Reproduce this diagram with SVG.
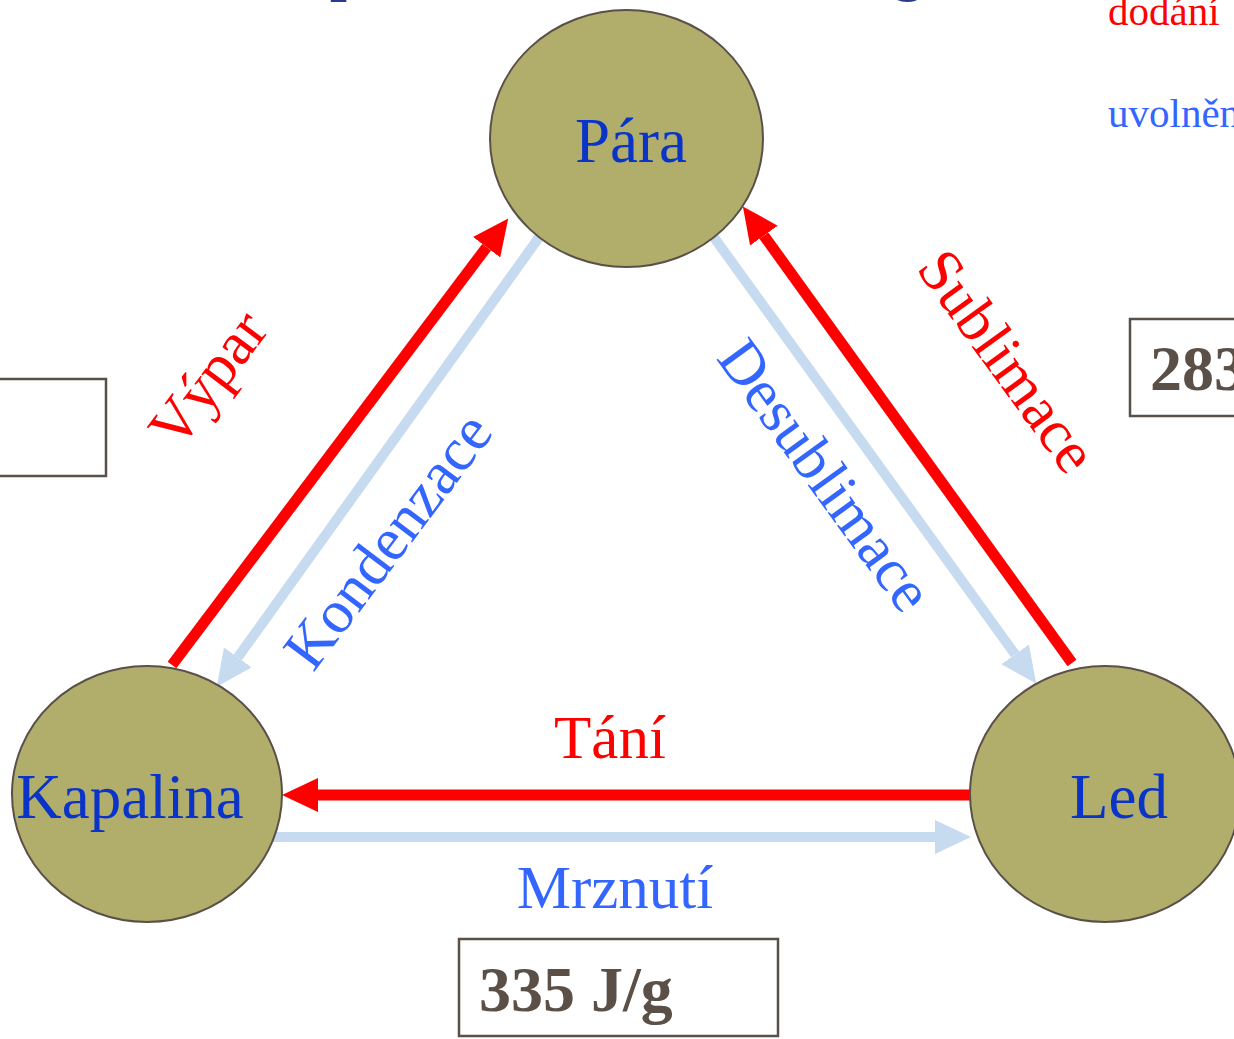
<svg xmlns="http://www.w3.org/2000/svg" width="1234" height="1039" viewBox="0 0 1234 1039">
<style>
.node{fill:#B1AE6C;stroke:#5A5048;stroke-width:2}
.nt{font-family:"Liberation Serif",serif;font-size:63px;fill:#0A33C8;text-anchor:middle}
.red{stroke:#FF0000;stroke-width:11;fill:none}
.lb{stroke:#C6DBEF;stroke-width:10;fill:none}
.rl{font-family:"Liberation Serif",serif;font-size:61px;fill:#FF0000;text-anchor:middle}
.bl{font-family:"Liberation Serif",serif;font-size:61px;fill:#3366FF;text-anchor:middle}
.box{fill:none;stroke:#5A5048;stroke-width:2.5}
.bt{font-family:"Liberation Serif",serif;font-size:64px;font-weight:bold;fill:#5A5048}
.leg{font-family:"Liberation Serif",serif;font-size:41px}
.title{font-family:"Liberation Serif",serif;font-size:60px;font-weight:bold;fill:#2A3A8C}
</style>
<defs>
<marker id="hr" viewBox="0 0 36 34" refX="0" refY="17" markerWidth="36" markerHeight="34" markerUnits="userSpaceOnUse" orient="auto">
<path d="M0,0 L36,17 L0,34 Z" fill="#FF0000"/>
</marker>
<marker id="hb" viewBox="0 0 36 34" refX="0" refY="17" markerWidth="36" markerHeight="34" markerUnits="userSpaceOnUse" orient="auto">
<path d="M0,0 L36,17 L0,34 Z" fill="#C6DBEF"/>
</marker>
</defs>
<g id="title">
<text class="title" x="330" y="-11">p</text>
<text class="title" x="893" y="-11">g</text>
</g>
<g id="legend">
<text class="leg" x="1108" y="25" fill="#FF0000">dodání</text>
<text class="leg" x="1108" y="127" fill="#3366FF">uvolnění</text>
</g>
<g id="connectors">
<line class="red" x1="172" y1="665" x2="486.6" y2="247.2" marker-end="url(#hr)"/>
<line class="lb" x1="540" y1="236" x2="237.8" y2="657.4" marker-end="url(#hb)"/>
<line class="lb" x1="713" y1="236" x2="1015.1" y2="654.4" marker-end="url(#hb)"/>
<line class="red" x1="1072" y1="663" x2="763.9" y2="235.6" marker-end="url(#hr)"/>
<line class="red" x1="972" y1="795" x2="318" y2="795" marker-end="url(#hr)"/>
<line class="lb" x1="265" y1="837" x2="935" y2="837" marker-end="url(#hb)"/>
</g>
<g id="labels">
<text class="rl" transform="translate(224,391) rotate(-53)">Výpar</text>
<text class="bl" transform="translate(404,553) rotate(-53)">Kondenzace</text>
<text class="bl" transform="translate(809,487) rotate(54)">Desublimace</text>
<text class="rl" transform="translate(991,373) rotate(54)">Sublimace</text>
<text class="rl" x="610" y="758">Tání</text>
<text class="bl" x="615" y="908">Mrznutí</text>
</g>
<g id="node-para">
<ellipse class="node" cx="626.5" cy="138.5" rx="136.5" ry="128.5"/>
<text class="nt" x="631" y="162">Pára</text>
</g>
<g id="node-kapalina">
<ellipse class="node" cx="147" cy="794" rx="135" ry="128"/>
<text class="nt" x="130" y="818">Kapalina</text>
</g>
<g id="node-led">
<ellipse class="node" cx="1105" cy="794" rx="135" ry="128"/>
<text class="nt" x="1119" y="818">Led</text>
</g>
<g id="box-left">
<rect class="box" x="-10" y="379" width="116" height="97"/>
</g>
<g id="box-right">
<rect class="box" x="1130" y="319" width="140" height="97"/>
<text class="bt" x="1150" y="390">2834 J/g</text>
</g>
<g id="box-bottom">
<rect class="box" x="459" y="939" width="319" height="97"/>
<text class="bt" x="479" y="1011">335 J/g</text>
</g>
</svg>
